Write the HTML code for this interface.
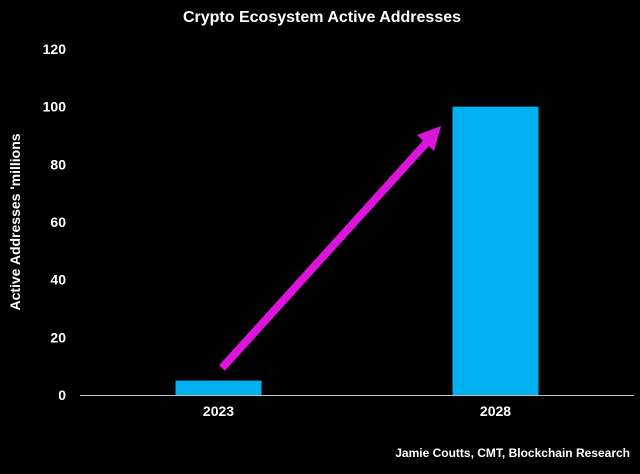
<!DOCTYPE html>
<html><head><meta charset="utf-8"><style>
body{margin:0;background:#000;width:640px;height:469px;overflow:hidden;font-family:"Liberation Sans",sans-serif}
svg text{font-family:"Liberation Sans",sans-serif;font-weight:bold;fill:#fff}
</style></head><body>
<svg id="c" width="640" height="469">
<rect width="640" height="469" fill="#000"/>
<text x="322" y="22" font-size="16" text-anchor="middle">Crypto Ecosystem Active Addresses</text>
<text transform="translate(20,222) rotate(-90)" font-size="14" text-anchor="middle">Active Addresses 'millions</text>
<text x="630" y="457" font-size="12" text-anchor="end">Jamie Coutts, CMT, Blockchain Research</text>
<g id="g"></g>
<line x1="80" y1="395.5" x2="634" y2="395.5" stroke="#bfbfbf" stroke-width="1"/>
<g>
<line x1="222" y1="368" x2="428" y2="141" stroke="#dc14dc" stroke-width="8"/>
<polygon points="441,126 417,135 434,151" fill="#dc14dc"/>
</g>
</svg>
<script>
const categories=["2023","2028"];
const values=[5,100];
const yTicks=[0,20,40,60,80,100,120];
const x0=80,x1=634,yb=395,yt=49,ymax=120;
const y=v=>yb-(v/ymax)*(yb-yt);
const band=(x1-x0)/categories.length;
const xc=i=>x0+band*(i+0.5);
const g=document.getElementById('g');
const NS="http://www.w3.org/2000/svg";
yTicks.forEach(t=>{
 const e=document.createElementNS(NS,'text');
 e.setAttribute('x',66);e.setAttribute('y',y(t)+5);
 e.setAttribute('font-size','14');e.setAttribute('text-anchor','end');
 e.textContent=t;
 
 
 g.appendChild(e);
});
categories.forEach((c,i)=>{
 const r=document.createElementNS(NS,'rect');
 const w=86;
 r.setAttribute('x',xc(i)-w/2);r.setAttribute('y',y(values[i]));
 r.setAttribute('width',w);r.setAttribute('height',yb-y(values[i]));
 r.setAttribute('fill','#00b0f0');
 
 
 g.appendChild(r);
 const e=document.createElementNS(NS,'text');
 e.setAttribute('x',xc(i));e.setAttribute('y',416);
 e.setAttribute('font-size','14');e.setAttribute('text-anchor','middle');
 e.textContent=c;
 
 
 g.appendChild(e);
});
</script>
</body></html>
